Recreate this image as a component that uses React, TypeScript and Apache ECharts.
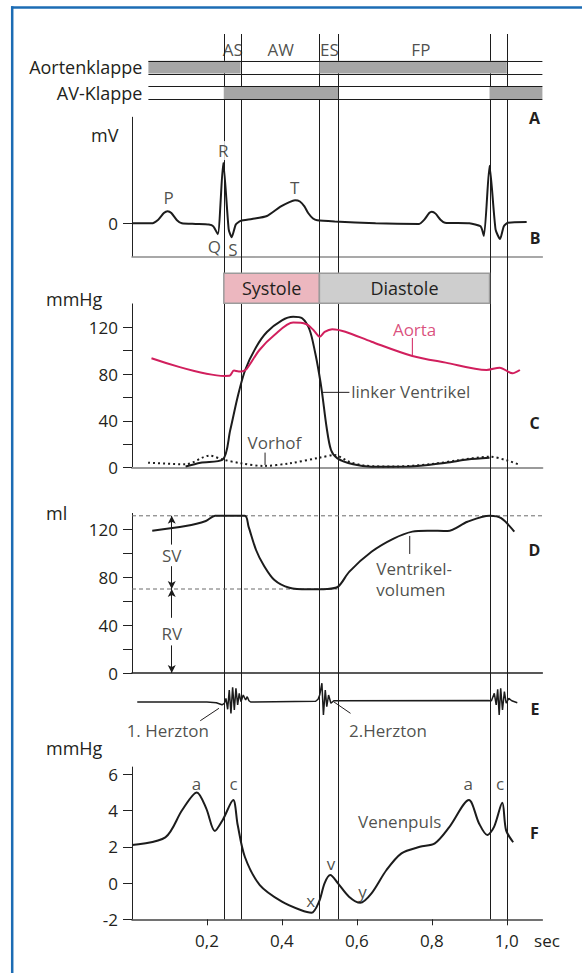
import React, { useEffect, useRef } from 'react';
import * as echarts from 'echarts';

// ---------------- data ----------------
const timeMax = 1.095;
const phaseLineTimes = [0.245, 0.29, 0.5, 0.55, 0.954, 1.0];
const phaseNames = ['AS', 'AW', 'ES', 'FP'];
const phaseNameTimes = [0.2688, 0.3968, 0.5267, 0.7707];

const valveRows = ['Aortenklappe', '', 'AV-Klappe'];
const valveSpan = [0.044, 1.095];
const aorticValveClosed = [[0.044, 0.29], [0.5, 1.0]];
const avValveClosed = [[0.245, 0.55], [0.954, 1.095]];

const cyclePhases = ['Systole', 'Diastole'];
const cyclePhaseSpans = [[0.245, 0.5], [0.5, 0.954]];

const ecg = [
  [0, 0], [0.052, 0], [0.07, 0.06], [0.085, 0.17], [0.095, 0.2], [0.105, 0.17], [0.12, 0.05], [0.133, 0],
  [0.17, -0.01], [0.205, -0.02], [0.217, -0.05], [0.229, -0.18], [0.2435, 1.0], [0.258, -0.1], [0.266, -0.23],
  [0.277, -0.02], [0.29, 0.04], [0.32, 0.07], [0.36, 0.12], [0.395, 0.27], [0.42, 0.35], [0.435, 0.38],
  [0.448, 0.36], [0.46, 0.28], [0.47, 0.17], [0.483, 0.08], [0.494, 0.05], [0.541, 0.03], [0.65, 0],
  [0.766, -0.01], [0.78, 0.06], [0.793, 0.17], [0.8, 0.19], [0.81, 0.16], [0.823, 0.06], [0.835, 0.01],
  [0.9, 0], [0.93, -0.05], [0.939, -0.21], [0.954, 0.95], [0.97, -0.1], [0.982, -0.26], [0.992, -0.05],
  [1.003, 0.01], [1.053, 0.02],
];
const ecgLabels = ['P', 'R', 'T', 'Q', 'S'];
const ecgLabelPos = [[0.098, 0.43], [0.2435, 1.2], [0.434, 0.59], [0.22, -0.375], [0.269, -0.44]];

const aorticPressure = [
  [0.052, 93.5], [0.247, 78.4], [0.26, 78.5], [0.272, 83], [0.285, 82.3], [0.295, 82.5], [0.306, 84.5],
  [0.34, 100.6], [0.38, 113.4], [0.43, 124], [0.464, 122.8], [0.484, 117.7], [0.501, 112], [0.514, 116],
  [0.534, 118.3], [0.569, 116.2], [0.639, 107.7], [0.748, 95.5], [0.837, 89.8], [0.946, 83.5],
  [0.981, 85.5], [1.015, 80.7], [1.035, 83.5],
];
const ventricularPressure = [
  [0.143, 1], [0.183, 4.3], [0.242, 7], [0.262, 32], [0.282, 60.7], [0.302, 83.5], [0.331, 103],
  [0.36, 116], [0.4, 126], [0.43, 129], [0.454, 127.7], [0.474, 117.7], [0.489, 97.8], [0.499, 80.7],
  [0.507, 64.4], [0.519, 35], [0.531, 15.1], [0.548, 8], [0.59, 2.9], [0.639, 0.9], [0.739, 1],
  [0.838, 4.3], [0.895, 7], [0.954, 8.5],
];
const atrialPressure = [
  [0.043, 4.3], [0.143, 2.9], [0.207, 10.3], [0.242, 7], [0.292, 3.7], [0.351, 1.5], [0.42, 3.7],
  [0.5, 8.5], [0.54, 10.8], [0.58, 5], [0.62, 1.8], [0.7, 1], [0.8, 3.2], [0.87, 6.3], [0.954, 9.4],
  [1.003, 6], [1.035, 2.3],
];
const pressureLabels = ['Aorta', 'linker Ventrikel', 'Vorhof'];
const pressureLabelPos = [[0.754, 117.7], [0.585, 65], [0.38, 21.4]];
const aortaLeader = [[0.748, 110.9], [0.748, 96.3]];
const ventricleLeader = [[0.509, 64.4], [0.58, 64.4]];
const atriumLeader = [[0.355, 12.9], [0.355, 2.3]];

const ventricularVolume = [
  [0.054, 118.6], [0.143, 122.5], [0.197, 126.7], [0.222, 131], [0.301, 131], [0.311, 122], [0.331, 102.5],
  [0.351, 90], [0.38, 77.5], [0.42, 71], [0.47, 69.7], [0.52, 70], [0.55, 72], [0.58, 84.5], [0.639, 101],
  [0.698, 112], [0.748, 117.8], [0.788, 118.6], [0.842, 118.3], [0.895, 126], [0.954, 131], [0.985, 129],
  [1.02, 117.8],
];
const endDiastolicLine = [[0, 131], [1.095, 131]];
const endSystolicLine = [[0, 70], [0.548, 70]];
const strokeArrowTime = 0.106;
const svArrowUpper = [131, 107];
const svArrowLower = [89, 70];
const rvArrowUpper = [70, 46];
const rvArrowLower = [23, 0];
const volumeLabels = ['SV', 'RV'];
const volumeLabelPos = [[0.106, 98.3], [0.106, 33.1]];
const volumeNoteLines = ['Ventrikel-', 'volumen'];
const volumeNotePos = [[0.652, 87.3], [0.652, 69.2]];
const volumeLeader = [[0.741, 114.2], [0.741, 99.2]];

const heartSound = [
  [0.014, 0], [0.2, 0], [0.225, -0.05], [0.24, -0.2], [0.2465, -0.1],
  [0.2507, 0.26], [0.2552, -0.52], [0.2595, 0.86], [0.264, -0.81], [0.2685, 1.05], [0.273, -0.57],
  [0.2773, 0.98], [0.2819, -0.21], [0.2861, 0.62], [0.2907, 0.02], [0.2968, 0.5], [0.3032, 0.14],
  [0.3075, 0.38], [0.312, 0.09], [0.3165, 0],
  [0.49, 0.05], [0.4965, 0.2], [0.5008, 0.5], [0.5067, 1.34], [0.5107, -0.93], [0.5157, 0.86],
  [0.5197, -0.34], [0.5245, 0.5], [0.5307, -0.09], [0.5384, 0.09],
  [0.95, 0.1], [0.959, 0.09], [0.9667, 0.62], [0.9717, -0.21], [0.9757, 0.9], [0.9797, -0.93],
  [0.9837, 0.98], [0.9885, -0.57], [0.9936, 0.74], [0.9984, -0.09], [1.0053, 0.26], [1.0133, 0.09],
  [1.028, -0.05],
];
const soundLabels = ['1. Herzton', '2.Herzton'];
const soundLabelPos = [[0.0955, -2.07], [0.683, -2.07]];
const firstSoundLeader = [[0.182, -1.34], [0.232, -0.45]];
const secondSoundLeader = [[0.538, 0.02], [0.583, -0.81]];

const venousPulse = [
  [0, 2.1], [0.089, 2.52], [0.134, 4.03], [0.173, 5.0], [0.198, 4.12], [0.221, 2.87], [0.242, 3.48],
  [0.27, 4.58], [0.282, 3.2], [0.301, 1.45], [0.341, -0.11], [0.4, -1.03], [0.45, -1.49], [0.479, -1.64],
  [0.499, -1.03], [0.514, 0], [0.529, 0.44], [0.549, 0], [0.579, -0.75], [0.609, -1.09], [0.639, -0.57],
  [0.679, 0.72], [0.719, 1.64], [0.768, 2.0], [0.808, 2.19], [0.847, 3.1], [0.899, 4.58], [0.926, 3.29],
  [0.948, 2.65], [0.966, 3.1], [0.988, 4.43], [0.998, 2.92], [1.017, 2.25],
];
const venousLabels = ['a', 'c', 'a', 'c', 'x', 'v', 'y'];
const venousLabelPos = [[0.172, 5.5], [0.271, 5.5], [0.897, 5.5], [0.982, 5.5], [0.477, -0.94], [0.531, 1.09], [0.615, -0.48]];
const venousNote = 'Venenpuls';
const venousNotePos = [0.603, 3.38];

const ecgTicks = [0];
const pressureTicks = [0, 20, 40, 60, 80, 100, 120];
const pressureTickLabels = [0, 40, 80, 120];
const volumeTicks = [0, 20, 40, 60, 80, 100, 120];
const volumeTickLabels = [0, 40, 80, 120];
const venousTicks = [-2, 0, 2, 4, 6];
const timeTicks = [0.2, 0.4, 0.6, 0.8, 1.0];

// ---------------- styles ----------------
const FONT = "'Open Sans', 'Noto Sans', sans-serif";
const TEXT = '#231f20';
const PINK = '#d11f5d';
const INK = '#1c1c1c';
const phaseColors = ['#ecb7bf', '#cecece'];
const L = 132;
const W = 410.4;

function buildOption() {
  const grid = [
    { left: L, width: W, top: 34, height: 885.3 },        // 0 vertical lines
    { left: 148.4, width: 394, top: 60.7, height: 38.6 }, // 1 valves
    { left: L, width: W, top: 36, height: 26 },           // 2 phase names
    { left: L, width: W, top: 117.25, height: 139.4 },    // 3 ECG
    { left: L, width: W, top: 273.3, height: 30 },        // 4 systole/diastole
    { left: L, width: W, top: 303.9, height: 163.8 },     // 5 pressure
    { left: L, width: W, top: 513.4, height: 159.6 },     // 6 volume
    { left: L, width: W, top: 688, height: 28 },          // 7 heart sound
    { left: L, width: W, top: 767.05, height: 152.25 },   // 8 venous pulse
  ].map((g) => ({ ...g, containLabel: false, outerBoundsMode: 'none', show: false }));

  const lbl = { fontSize: 17, color: TEXT, fontFamily: FONT };
  const hiddenX = (gi: number, min = 0) => ({ type: 'value', gridIndex: gi, min, max: timeMax, show: false });
  const lineX = (gi: number, color: string, width: number, extra: any = {}) => ({
    type: 'value', gridIndex: gi, min: 0, max: timeMax,
    axisLine: { show: true, onZero: false, lineStyle: { color, width } },
    axisTick: { show: false }, axisLabel: { show: false }, splitLine: { show: false }, ...extra,
  });
  const xAxis = [
    hiddenX(0), hiddenX(1, valveSpan[0]), hiddenX(2),
    lineX(3, '#8c8c8c', 1.5), hiddenX(4), lineX(5, '#9a9a9a', 2), lineX(6, '#222', 1.5), hiddenX(7),
    lineX(8, '#444', 1.5, {
      axisTick: { show: true, customValues: timeTicks, length: 6, lineStyle: { color: '#222' } },
      axisLabel: {
        show: true, customValues: timeTicks, margin: 13, ...lbl,
        formatter: (v: number) => v.toFixed(1).replace('.', ','),
      },
    }),
  ];
  const hiddenY = (gi: number, min: number, max: number) => ({ type: 'value', gridIndex: gi, min, max, show: false });
  const valueY = (gi: number, min: number, max: number, ticks: number[], labels: number[]) => ({
    type: 'value', gridIndex: gi, min, max,
    axisLine: { show: true, lineStyle: { color: '#222', width: 1 } },
    axisTick: { show: true, customValues: ticks, length: 9, lineStyle: { color: '#222' } },
    axisLabel: { show: true, customValues: labels, margin: 14, ...lbl },
    splitLine: { show: false },
  });
  const yAxis = [
    hiddenY(0, 0, 1),
    {
      type: 'category', gridIndex: 1, inverse: true, data: valveRows,
      axisLine: { show: false }, axisTick: { show: false }, splitLine: { show: false },
      axisLabel: { show: true, margin: 6, ...lbl, fontSize: 18 },
    },
    hiddenY(2, 0, 1),
    valueY(3, -0.55, 1.75, ecgTicks, ecgTicks),
    hiddenY(4, 0, 1),
    valueY(5, 0, 140, pressureTicks, pressureTickLabels),
    valueY(6, 0, 133, volumeTicks, volumeTickLabels),
    hiddenY(7, -1, 1),
    valueY(8, -2, 6.4, venousTicks, venousTicks),
  ];

  const curve = (gi: number, data: number[][], color: string, width: number, extra: any = {}) => ({
    type: 'line', xAxisIndex: gi, yAxisIndex: gi, data, symbol: 'none', showSymbol: false,
    smooth: 0.3, clip: false, silent: true, z: 3, lineStyle: { color, width }, ...extra,
  });
  const leader = (gi: number, data: number[][], color = TEXT) => ({
    type: 'line', xAxisIndex: gi, yAxisIndex: gi, data, symbol: 'none', silent: true, clip: false, z: 4,
    lineStyle: { color, width: 1 },
  });
  const labels = (gi: number, names: string[], pos: number[][], opts: any = {}, itemOpts: any[] = []) => ({
    type: 'scatter', xAxisIndex: gi, yAxisIndex: gi, symbolSize: 0, clip: false, silent: true, z: 6,
    data: names.map((n, i) => ({ name: n, value: pos[i], ...(itemOpts[i] || {}) })),
    label: { show: true, position: 'inside', formatter: '{b}', ...lbl, fontSize: 17, ...opts },
  });

  const series: any[] = [
    // vertical phase lines
    {
      type: 'custom', xAxisIndex: 0, yAxisIndex: 0, z: 1, silent: true, clip: false,
      data: phaseLineTimes.map((t) => [t, 0]), encode: { x: 0, y: 1 },
      renderItem: (_p: any, api: any) => {
        const a = api.coord([api.value(0), 1]);
        const b = api.coord([api.value(0), 0]);
        const x = Math.round(a[0]) + 0.5;
        return { type: 'line', shape: { x1: x, y1: a[1], x2: x, y2: b[1] }, style: { stroke: INK, lineWidth: 1 } };
      },
    },
    // valve fills
    {
      type: 'custom', xAxisIndex: 1, yAxisIndex: 1, z: 2, silent: true,
      data: [...aorticValveClosed.map((s) => [s[0], s[1], 0]), ...avValveClosed.map((s) => [s[0], s[1], 2])],
      encode: { x: [0, 1], y: 2 },
      renderItem: (_p: any, api: any) => {
        const s = api.coord([api.value(0), api.value(2)]);
        const e = api.coord([api.value(1), api.value(2)]);
        const h = api.size([0, 1])[1];
        return { type: 'rect', shape: { x: s[0], y: s[1] - h / 2, width: e[0] - s[0], height: h }, style: { fill: '#a6a6a6' } };
      },
    },
    // valve row borders
    {
      type: 'custom', xAxisIndex: 1, yAxisIndex: 1, z: 3, silent: true,
      data: [[valveSpan[0], valveSpan[1], 0], [valveSpan[0], valveSpan[1], 2]],
      encode: { x: [0, 1], y: 2 },
      renderItem: (_p: any, api: any) => {
        const s = api.coord([api.value(0), api.value(2)]);
        const e = api.coord([api.value(1), api.value(2)]);
        const h = api.size([0, 1])[1];
        const y1 = Math.round(s[1] - h / 2) + 0.5;
        const y2 = Math.round(s[1] + h / 2) + 0.5;
        return {
          type: 'group', children: [
            { type: 'line', shape: { x1: s[0], y1, x2: e[0], y2: y1 }, style: { stroke: INK, lineWidth: 1 } },
            { type: 'line', shape: { x1: s[0], y1: y2, x2: e[0], y2 }, style: { stroke: INK, lineWidth: 1 } },
          ],
        };
      },
    },
    labels(2, phaseNames, phaseNameTimes.map((t) => [t, 0.5]), { fontSize: 17 }),
    // ECG
    curve(3, ecg, INK, 2, { smooth: 0.2 }),
    labels(3, ecgLabels, ecgLabelPos, {}, [{}, { label: { backgroundColor: '#fff', padding: [1, 2] } }]),
    // systole / diastole bars
    {
      type: 'custom', xAxisIndex: 4, yAxisIndex: 4, z: 8, silent: true,
      data: cyclePhaseSpans.map((s) => [s[0], s[1]]), encode: { x: [0, 1] },
      renderItem: (p: any, api: any) => {
        const a = api.coord([api.value(0), 1]);
        const b = api.coord([api.value(1), 0]);
        return {
          type: 'group', children: [
            {
              type: 'rect', shape: { x: a[0], y: a[1], width: b[0] - a[0], height: b[1] - a[1] },
              style: { fill: phaseColors[p.dataIndex], stroke: '#9b9b9b', lineWidth: 1.5 },
            },
            {
              type: 'text', style: {
                text: cyclePhases[p.dataIndex], x: (a[0] + b[0]) / 2, y: (a[1] + b[1]) / 2,
                align: 'center', verticalAlign: 'middle', fontSize: 18, fontFamily: FONT, fill: TEXT,
              },
            },
          ],
        };
      },
    },
    // pressures
    curve(5, atrialPressure, INK, 2, { lineStyle: { color: INK, width: 2, type: [2, 3] } }),
    curve(5, ventricularPressure, INK, 2),
    curve(5, aorticPressure, PINK, 2),
    leader(5, aortaLeader, PINK),
    leader(5, ventricleLeader),
    leader(5, atriumLeader),
    labels(5, pressureLabels, pressureLabelPos, {}, [
      { label: { color: PINK } },
      { label: { position: 'right', distance: 0 } },
      {},
    ]),
    // volume
    {
      ...curve(6, ventricularVolume, INK, 2),
      markLine: {
        silent: true, symbol: 'none', symbolSize: [6, 8],
        label: { show: false },
        lineStyle: { color: INK, width: 1, type: 'solid' },
        data: [
          [{ coord: [strokeArrowTime, svArrowUpper[0]], symbol: 'arrow' }, { coord: [strokeArrowTime, svArrowUpper[1]], symbol: 'none' }],
          [{ coord: [strokeArrowTime, svArrowLower[0]], symbol: 'none' }, { coord: [strokeArrowTime, svArrowLower[1]], symbol: 'arrow' }],
          [{ coord: [strokeArrowTime, rvArrowUpper[0]], symbol: 'arrow' }, { coord: [strokeArrowTime, rvArrowUpper[1]], symbol: 'none' }],
          [{ coord: [strokeArrowTime, rvArrowLower[0]], symbol: 'none' }, { coord: [strokeArrowTime, rvArrowLower[1]], symbol: 'arrow' }],
        ],
      },
    },
    curve(6, endDiastolicLine, '#6b6b6b', 1, { smooth: false, z: 2, lineStyle: { color: '#6b6b6b', width: 1, type: [4, 3] } }),
    curve(6, endSystolicLine, '#6b6b6b', 1, { smooth: false, z: 2, lineStyle: { color: '#6b6b6b', width: 1, type: [4, 3] } }),
    leader(6, volumeLeader),
    labels(6, volumeLabels, volumeLabelPos),
    labels(6, volumeNoteLines, volumeNotePos, { position: 'right', distance: 0 }),
    // heart sounds
    curve(7, heartSound, INK, 1.5, { smooth: false }),
    leader(7, firstSoundLeader),
    leader(7, secondSoundLeader),
    labels(7, soundLabels, soundLabelPos),
    // venous pulse
    curve(8, venousPulse, INK, 2),
    labels(8, venousLabels, venousLabelPos),
    labels(8, [venousNote], [venousNotePos], { position: 'right', distance: 0 }),
  ];

  const txt = (text: string, x: number, y: number, extra: any = {}) => ({
    type: 'text', x, y, silent: true, z: 10,
    style: { text, fontSize: 17, fontFamily: FONT, fill: TEXT, align: 'center', verticalAlign: 'middle', ...extra },
  });
  const bold = { fontWeight: 'bold', fontSize: 16 };
  const graphic = [
    { type: 'line', silent: true, shape: { x1: 11, y1: 7.5, x2: 582, y2: 7.5 }, style: { stroke: '#1c6cb4', lineWidth: 2.5 } },
    { type: 'line', silent: true, shape: { x1: 12.2, y1: 6.3, x2: 12.2, y2: 973 }, style: { stroke: '#1c6cb4', lineWidth: 2.5 } },
    txt('A', 534.5, 118.3, bold),
    txt('B', 535, 238.3, bold),
    txt('C', 534.5, 423.3, bold),
    txt('D', 534.5, 550, bold),
    txt('E', 535, 709.3, bold),
    txt('F', 534.5, 833.3, bold),
    txt('mV', 104.8, 135, { fontSize: 18 }),
    txt('mmHg', 74.2, 299.3, { fontSize: 18 }),
    txt('ml', 56.6, 512.7, { fontSize: 18 }),
    txt('mmHg', 74.2, 748.3, { fontSize: 18 }),
    txt('sec', 547, 940, { fontSize: 17 }),
  ];

  return { animation: false, backgroundColor: '#fff', textStyle: { fontFamily: FONT }, grid, xAxis, yAxis, series, graphic };
}

export default function App() {
  const ref = useRef<HTMLDivElement>(null);
  useEffect(() => {
    if (!ref.current) return;
    const chart = echarts.init(ref.current, undefined, { renderer: 'svg' });
    chart.setOption(buildOption() as any);
    return () => chart.dispose();
  }, []);
  return <div ref={ref} style={{ position: 'absolute', left: 0, top: 0, width: 582, height: 973 }} />;
}
